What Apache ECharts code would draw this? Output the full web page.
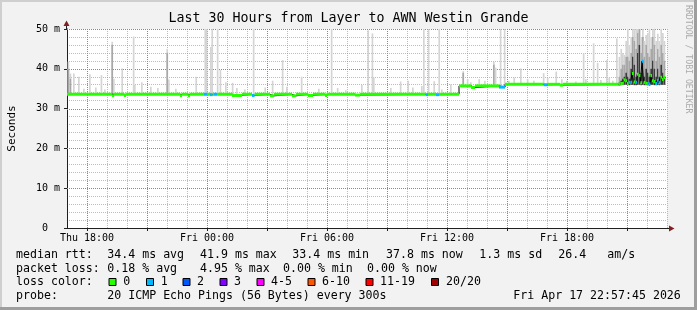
<!DOCTYPE html>
<html><head><meta charset="utf-8">
<script src="https://cdn.jsdelivr.net/npm/echarts@6/dist/echarts.min.js"></script>
<style>html,body{margin:0;padding:0;background:#f2f2f2}#c{width:697px;height:310px}</style>
</head><body><div id="c"></div>
<script>
// ---------------- data ----------------
const titleText = 'Last 30 Hours from Layer to AWN Westin Grande';
const yAxisName = 'Seconds';
const xMinHour = 17, xMaxHour = 47;          // hours since Thu 00:00
const xTickHours = [18,21,24,27,30,33,36,39,42,45];
const xLabelHours = [18,24,30,36,42];
const dayNames = ['Thu','Fri'];
const yMax = 50, yStep = 10;
const yMajorValues = [10,20,30,40,50];

// median rtt (ms) segments: start hour, value, lost pings
const medHours  = [17.00,19.25,19.35,19.85,19.95,22.65,22.75,23.05,23.15,23.85,24.00,24.15,24.28,24.35,24.50,25.25,25.75,26.25,26.38,27.15,27.35,28.25,28.45,29.05,29.30,29.90,30.00,31.40,31.65,34.93,35.05,35.45,35.60,36.60,37.20,37.40,38.60,38.90,40.83,41.05,41.65,41.80];
const medValues = [33.6,33.2,33.6,33.3,33.6,33.2,33.6,33.2,33.6,33.6,33.6,33.5,33.6,33.6,33.6,33.3,33.6,33.3,33.6,33.2,33.6,33.2,33.6,33.3,33.6,33.3,33.6,33.4,33.6,33.5,33.6,33.5,33.6,35.7,35.3,35.7,35.4,36.1,36.0,36.1,35.9,36.1];
const medLoss   = [0,0,0,0,0,0,0,0,0,1,0,1,0,1,0,0,0,1,0,0,0,0,0,0,0,0,0,0,0,1,0,1,0,0,0,0,1,0,1,0,0,0];
const medEndHour = 46.92;

// isolated smoke spikes (max rtt, ms) and darker part tops
const spikeHours = [17.03,17.13,17.30,17.55,17.80,18.10,18.40,18.68,18.85,19.22,
  19.30,19.72,20.29,20.35,20.70,21.15,21.50,21.97,22.05,22.40,
  23.42,23.87,23.94,24.15,24.22,24.49,24.63,24.90,25.24,25.45,
  25.85,26.29,26.87,27.24,27.74,27.95,28.69,29.55,30.19,30.49,
  30.90,31.70,32.02,32.23,32.30,33.15,33.64,34.02,34.25,34.70,
  34.80,35.04,35.32,35.57,35.70,36.15,36.77,36.99,37.15,37.57,
  37.85,38.30,38.39,38.64,38.84,39.05,39.32,39.65,39.99,40.30,
  40.79,40.99,41.42,41.70,41.95,42.40,42.79,42.90,43.29,43.49,
  43.65,43.95,44.07,44.25,44.45];
const spikeTops = [41.8,38.8,38.8,38.0,35.0,38.6,35.3,38.4,34.8,46.8,
  37.5,40.1,48.1,36.0,36.6,35.5,35.2,45.0,37.3,35.0,
  38.0,50,50,45.5,50,50,39.7,36.6,36.5,35.2,
  34.8,50,35.3,37.0,42.2,35.5,38.0,35.0,50,35.2,
  34.6,35.9,49.7,48.9,37.8,35.2,36.8,37.0,35.3,35.7,
  50,50,36.9,50,34.8,36.1,39.4,37.4,36.6,37.4,
  37.0,41.8,40.3,50,50,37.0,37.8,40.1,37.4,37.0,
  38.9,37.8,39.3,37.4,37.0,36.8,43.9,37.4,46.4,41.5,
  37.2,42.2,37.8,37.0,47.6];
const spikeDark = [40,37.5,0,0,0,0,0,0,0,46,
  0,0,0,0,0,0,0,44,0,0,
  0,0,0,0,0,0,0,0,0,0,
  0,0,0,0,0,0,0,0,0,0,
  0,0,0,0,0,0,0,0,0,0,
  0,0,0,0,0,0,39,0,0,0,
  0,41,0,0,0,0,0,0,0,0,
  0,0,0,0,0,0,0,0,0,0,
  0,0,0,0,0];

// last ~2.3 hours: dense smoke, 5 minute samples
const denseHours = [44.58,44.67,44.75,44.83,44.92,45.00,45.08,45.17,45.25,45.33,45.42,45.50,45.58,45.67,45.75,45.83,45.92,46.00,46.08,46.17,46.25,46.33,46.42,46.50,46.58,46.67,46.75,46.83];
const denseMed  = [36.1,36.3,36.4,37.2,37.0,36.3,36.6,36.6,38.8,36.7,36.6,38.6,38.3,36.5,41.9,36.6,36.4,36.3,36.2,38.3,37.0,36.8,36.3,37.1,36.5,37.9,37.3,37.8];
const denseLoss = [0,0,0,0,0,0,1,1,0,0,1,0,0,0,1,0,0,1,1,0,0,0,1,1,1,0,0,0];
const denseLo   = [35.8,35.9,35.9,36.0,36.0,35.9,35.9,36.0,36.0,35.9,35.9,36.0,36.0,35.9,36.0,35.9,35.9,35.9,35.8,36.0,36.0,35.9,35.9,35.9,35.9,36.0,36.0,36.0];
const denseCore = [36.5,37.0,37.5,38.0,39.0,38.0,37.5,40.0,43.0,41.0,38.0,44.0,46.0,39.0,42.0,38.0,40.0,39.0,38.0,40.0,42.0,40.0,38.0,40.0,38.0,41.0,39.0,38.0];
const denseMid  = [38,40,41,41,43,43,42,44,48,47,45,49,50,44,48,43,46,44,43,45,48,46,42,45,43,46,44,42];
const denseHi   = [43,45,44,43.5,47,50,46,48,50,50,50,50,50,48,50,47,48.5,49,50,48,50,50,47,48.8,47,50,49,47];

const lossLabels = ['0','1','2','3','4-5','6-10','11-19','20/20'];
const lossColors = ['#26ff00','#00b8ff','#0059ff','#7e00ff','#ff00ff','#ff5500','#ff0000','#a10000'];
const rttStats  = ['34.4 ms avg','41.9 ms max','33.4 ms min','37.8 ms now','1.3 ms sd','26.4','am/s'];
const lossStats = ['0.18 % avg','4.95 % max','0.00 % min','0.00 % now'];
const rowLabels = ['median rtt:','packet loss:','loss color:','probe:'];
const probeText = '20 ICMP Echo Pings (56 Bytes) every 300s';
const stampText = 'Fri Apr 17 22:57:45 2026';
const watermark = 'RRDTOOL / TOBI OETIKER';

// ---------------- build ----------------
const FONT = '"DejaVu Sans Mono", "Liberation Mono", monospace';
const STEP = 5/60;
const GRID_C = 'rgba(143,143,143,0.6)';
const MGRID_C = '#e46464';

function medianAt(h){ let v = medValues[0]; for (let i=0;i<medHours.length;i++){ if (medHours[i] <= h) v = medValues[i]; else break; } return v; }
function lossIndex(n){ if (n<=3) return n; if (n<=5) return 4; if (n<=10) return 5; if (n<=19) return 6; return 7; }

const allH = medHours.concat(denseHours), allV = medValues.concat(denseMed), allL = medLoss.concat(denseLoss);
const smokeData = spikeHours.map((h,i)=>{ const lo = medianAt(h)-0.2; return [h, lo, lo, spikeDark[i]||lo, spikeTops[i]]; })
  .concat(denseHours.map((h,i)=>[h, denseLo[i], denseCore[i], denseMid[i], denseHi[i]]));
const medSegData = allH.map((h,i)=>[h, i+1<allH.length ? allH[i+1] : medEndHour, allV[i], allL[i]]);
const medLineData = allH.map((h,i)=>[h, allV[i]]).concat([[medEndHour, allV[allV.length-1]]]);
const majorGridData = xTickHours.map(h=>[h, 0, 0]).concat(yMajorValues.map(v=>[xMinHour, v, 1]));

function renderSmoke(params, api){
  const h = api.value(0);
  const xa = api.coord([h, 0])[0], xb = api.coord([h+STEP, 0])[0];
  const Y = v => api.coord([h, Math.min(v, yMax)])[1];
  const lo = api.value(1);
  const layers = [[api.value(4), '#d4d4d4'], [api.value(3), '#a8a8a8'], [api.value(2), '#3a3a3a']];
  const children = [];
  layers.forEach(([top, col]) => {
    if (top > lo) children.push({type:'rect', shape:{x:xa, y:Y(top), width:xb-xa, height:Y(lo)-Y(top)}, style:{fill:col}});
  });
  return {type:'group', children};
}
function renderMed(params, api){
  const x0 = api.coord([api.value(0), 0])[0], x1 = api.coord([api.value(1), 0])[0];
  const y = api.coord([api.value(0), api.value(2)])[1];
  return {type:'rect', shape:{x:x0, y:y-1.5, width:x1-x0, height:3}, style:{fill: lossColors[lossIndex(api.value(3))]}};
}
function renderMajorGrid(params, api){
  const cs = params.coordSys;
  const st = {stroke:MGRID_C, lineWidth:1, lineDash:[1,1]};
  if (api.value(2) === 0) {
    const x = Math.round(api.coord([api.value(0), 0])[0]) + 0.5;
    return {type:'line', shape:{x1:x, y1:cs.y, x2:x, y2:cs.y+cs.height}, style:st};
  }
  const y = Math.round(api.coord([xMinHour, api.value(1)])[1]) + 0.5;
  return {type:'line', shape:{x1:cs.x, y1:y, x2:cs.x+cs.width, y2:y}, style:st};
}

const G = {left:67, right:30, top:29, bottom:82, containLabel:false, outerBoundsMode:'none'};
const chart = echarts.init(document.getElementById('c'), null, {renderer:'canvas', width:697, height:310});

function txt(text, x, y, size, extra){
  return Object.assign({type:'text', x, y, silent:true,
    style:{text, font: size+'px '+FONT, fill:'#000', textAlign:'left', textVerticalAlign:'middle'}}, extra||{});
}
const rowY = [255, 268.5, 282, 295.8];
const LS = 11.6;
const graphics = [
  {type:'rect', silent:true, shape:{x:0,y:0,width:697,height:2}, style:{fill:'#cfcfcf'}},
  {type:'rect', silent:true, shape:{x:0,y:0,width:2,height:310}, style:{fill:'#cfcfcf'}},
  {type:'rect', silent:true, shape:{x:694,y:0,width:3,height:310}, style:{fill:'#9e9e9e'}},
  {type:'rect', silent:true, shape:{x:0,y:307,width:697,height:3}, style:{fill:'#9e9e9e'}},
  txt(watermark, 688, 5, 8.2, {rotation:-Math.PI/2, style:{text:watermark, font:'8.2px '+FONT, fill:'#aaaaaa', textAlign:'left', textVerticalAlign:'middle'}}),
  {type:'line', silent:true, shape:{x1:667, y1:228.5, x2:670, y2:228.5}, style:{stroke:'#1f1f1f', lineWidth:1}},
  {type:'polygon', silent:true, shape:{points:[[669,225.5],[674.5,228.5],[669,231.5]]}, style:{fill:'#801f1f'}},
  {type:'line', silent:true, shape:{x1:66.5, y1:29, x2:66.5, y2:25}, style:{stroke:'#1f1f1f', lineWidth:1}},
  {type:'polygon', silent:true, shape:{points:[[63.5,26],[66.5,20.5],[69.5,26]]}, style:{fill:'#801f1f'}},
];
const rttX = [107.3, 200, 292.3, 386, 479.3, 558.3, 607.3];
const lossX = [107.3, 200, 283, 367];
const boxX = [108.5, 146, 182.5, 219.5, 256.5, 307.5, 365.5, 431];
const boxLabelX = [123.3, 160.7, 197, 234, 271, 322, 380, 446];
rowLabels.forEach((t,i)=>graphics.push(txt(t, 16, rowY[i], LS)));
rttStats.forEach((t,i)=>graphics.push(txt(t, rttX[i], rowY[0], LS)));
lossStats.forEach((t,i)=>graphics.push(txt(t, lossX[i], rowY[1], LS)));
lossLabels.forEach((t,i)=>{
  graphics.push({type:'rect', silent:true, shape:{x:boxX[i]+0.5, y:278.5, width:7, height:7}, style:{fill:lossColors[i], stroke:'#000', lineWidth:1}});
  graphics.push(txt(t, boxLabelX[i], rowY[2], LS));
});
graphics.push(txt(probeText, 107.3, rowY[3], LS));
graphics.push(txt(stampText, 513.3, rowY[3], LS));

const hourLabel = v => { const d = Math.floor(v/24); const hh = ((v%24)+24)%24; return dayNames[d] + ' ' + String(hh).padStart(2,'0') + ':00'; };

chart.setOption({
  animation:false,
  backgroundColor:'#f2f2f2',
  title:{text:titleText, left:'center', top:12, padding:0, textStyle:{fontFamily:FONT, fontSize:13.3, fontWeight:'normal', color:'#000'}},
  grid:[Object.assign({show:true, backgroundColor:'#ffffff', borderWidth:0}, G), Object.assign({show:false}, G)],
  xAxis:[
    {gridIndex:0, type:'value', min:xMinHour, max:xMaxHour, interval:1,
      axisLine:{show:false}, axisTick:{show:false}, axisLabel:{show:false},
      splitLine:{show:true, lineStyle:{color:GRID_C, type:[1,1], width:1}}},
    {gridIndex:1, type:'value', min:xMinHour, max:xMaxHour, interval:1,
      axisLine:{show:true, onZero:false, lineStyle:{color:'#1f1f1f', width:1}},
      axisTick:{show:true, customValues:xTickHours, length:3, lineStyle:{color:'#1f1f1f'}},
      axisLabel:{show:true, customValues:xLabelHours, formatter:hourLabel, fontFamily:FONT, fontSize:10, color:'#000', margin:5},
      splitLine:{show:false}}
  ],
  yAxis:[
    {gridIndex:0, type:'value', min:0, max:yMax, interval:yStep,
      name:yAxisName, nameLocation:'middle', nameGap:49, nameRotate:90,
      nameTextStyle:{fontFamily:FONT, fontSize:11, color:'#000'},
      axisLine:{show:true, lineStyle:{color:'#1f1f1f', width:1}},
      axisTick:{show:true, length:3, lineStyle:{color:'#1f1f1f'}},
      axisLabel:{formatter: v => v === 0 ? '0  ' : v + ' m', fontFamily:FONT, fontSize:10, color:'#000', margin:7},
      splitLine:{show:false},
      minorTick:{show:false, splitNumber:5},
      minorSplitLine:{show:true, lineStyle:{color:GRID_C, type:[1,1], width:1}}},
    {gridIndex:1, type:'value', min:0, max:yMax, show:false}
  ],
  series:[
    {type:'custom', xAxisIndex:0, yAxisIndex:0, renderItem:renderMajorGrid, data:majorGridData, encode:{x:0, y:1}, z:1, silent:true},
    {type:'custom', xAxisIndex:0, yAxisIndex:0, renderItem:renderSmoke, data:smokeData, encode:{x:0, y:[1,4]}, z:2, silent:true, clip:true},
    {type:'line', xAxisIndex:0, yAxisIndex:0, data:medLineData, step:'end', symbol:'none', lineStyle:{color:'#000', width:1}, z:3, silent:true},
    {type:'custom', xAxisIndex:0, yAxisIndex:0, renderItem:renderMed, data:medSegData, encode:{x:[0,1], y:2}, z:4, silent:true}
  ],
  graphic: graphics
});
</script></body></html>
